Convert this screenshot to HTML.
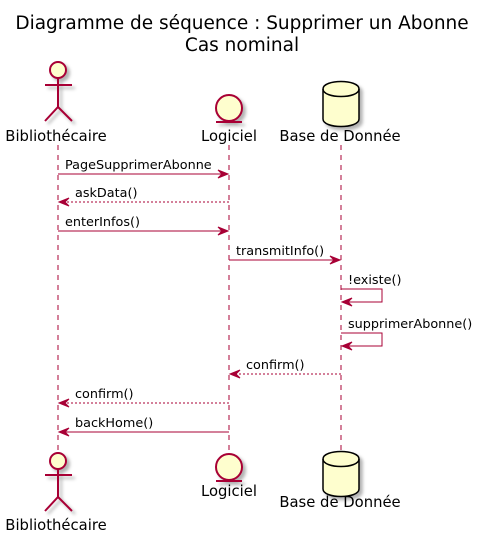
<!DOCTYPE html>
<html><head><meta charset="utf-8"><style>
body{margin:0;background:#fff}
svg{display:block;font-family:"DejaVu Sans","Liberation Sans",sans-serif}
</style></head><body>
<svg width="483" height="537" viewBox="0 0 483 537">
<defs>
<filter id="sh" x="-30%" y="-30%" width="170%" height="170%"><feDropShadow dx="3" dy="3" stdDeviation="1.5" flood-color="#000" flood-opacity="0.3"/></filter>
</defs>
<text x="242" y="29" font-size="18.5" text-anchor="middle">Diagramme de séquence : Supprimer un Abonne</text>
<text x="242" y="51" font-size="18.5" text-anchor="middle">Cas nominal</text>
<g stroke="#A80036" stroke-dasharray="5,5" stroke-width="1">
<line x1="58" y1="145" x2="58" y2="450"/>
<line x1="229" y1="145" x2="229" y2="450"/>
<line x1="341" y1="145" x2="341" y2="450"/>
</g>
<g stroke="#A80036" stroke-width="2" fill="#FEFECE" filter="url(#sh)">
<circle cx="58" cy="70" r="8"/>
<line x1="58" y1="78" x2="58" y2="107"/>
<line x1="45" y1="85" x2="72" y2="85"/>
<polyline points="45,121 58,107 72,121" fill="none"/>
</g>
<g stroke="#A80036" stroke-width="2" fill="#FEFECE" filter="url(#sh)">
<circle cx="58" cy="461" r="8"/>
<line x1="58" y1="469" x2="58" y2="497"/>
<line x1="45" y1="475" x2="72" y2="475"/>
<polyline points="45,511 58,497 72,511" fill="none"/>
</g>
<g stroke="#A80036" stroke-width="2" fill="#FEFECE" filter="url(#sh)">
<circle cx="229" cy="108" r="13"/>
<line x1="216" y1="122" x2="242" y2="122"/>
</g>
<g stroke="#A80036" stroke-width="2" fill="#FEFECE" filter="url(#sh)">
<circle cx="229" cy="467" r="13"/>
<line x1="216" y1="481" x2="242" y2="481"/>
</g>
<g stroke="#000" stroke-width="1.5" fill="#FEFECE" filter="url(#sh)">
<path d="M323,89 C323,79 359,79 359,89 L359,119 C359,129 323,129 323,119 Z"/>
<path d="M323,89 C323,99 359,99 359,89" fill="none"/>
</g>
<g stroke="#000" stroke-width="1.5" fill="#FEFECE" filter="url(#sh)">
<path d="M323,459 C323,449 359,449 359,459 L359,489 C359,499 323,499 323,489 Z"/>
<path d="M323,459 C323,469 359,469 359,459" fill="none"/>
</g>
<g font-size="14.8" text-anchor="middle">
<text x="56" y="141">Bibliothécaire</text>
<text x="229" y="141">Logiciel</text>
<text x="340" y="141">Base de Donnée</text>
<text x="56" y="530">Bibliothécaire</text>
<text x="229" y="496">Logiciel</text>
<text x="340" y="507">Base de Donnée</text>
</g>
<g id="msgs" font-size="12.8"></g>
</svg>
<script>
const fromX=[58,229,58,229,341,341,341,229,229];
const toX=[229,58,229,341,341,341,229,58,58];
const msgY=[174,202,231,260,289,333,374,403,432];
const labels=["PageSupprimerAbonne","askData()","enterInfos()","transmitInfo()","!existe()","supprimerAbonne()","confirm()","confirm()","backHome()"];
const dashed=[false,true,false,false,false,false,true,true,false];
const NS="http://www.w3.org/2000/svg";
const g=document.getElementById('msgs');
function mk(t,a){const e=document.createElementNS(NS,t);for(const k in a)e.setAttribute(k,a[k]);g.appendChild(e);return e;}
function head(x,y,dir){mk('polygon',{points:`${x},${y} ${x-dir*10},${y-4} ${x-dir*6},${y} ${x-dir*10},${y+4}`,fill:'#A80036',stroke:'#A80036'});}
labels.forEach((lab,i)=>{
 const x1=fromX[i],x2=toX[i],y=msgY[i];
 const st={stroke:'#A80036','stroke-width':1,fill:'none'};
 if(dashed[i])st['stroke-dasharray']='2,2';
 let tx;
 if(x1===x2){
  const p=mk('polyline',Object.assign({points:`${x1},${y} ${x1+41},${y} ${x1+41},${y+13} ${x1+1},${y+13}`},st));
  
  
  head(x1+1,y+13,-1);
  tx=x1+7;
 } else {
  const dir=x2>x1?1:-1;
  const l=mk('line',Object.assign({x1:x1,y1:y,x2:x2-dir*1,y2:y},st));
  
  
  head(x2-dir*1,y,dir);
  tx=dir>0?x1+7:x2+17;
 }
 const t=mk('text',{x:tx,y:y-5});
 t.textContent=lab;
 
 
});
</script>
</body></html>
